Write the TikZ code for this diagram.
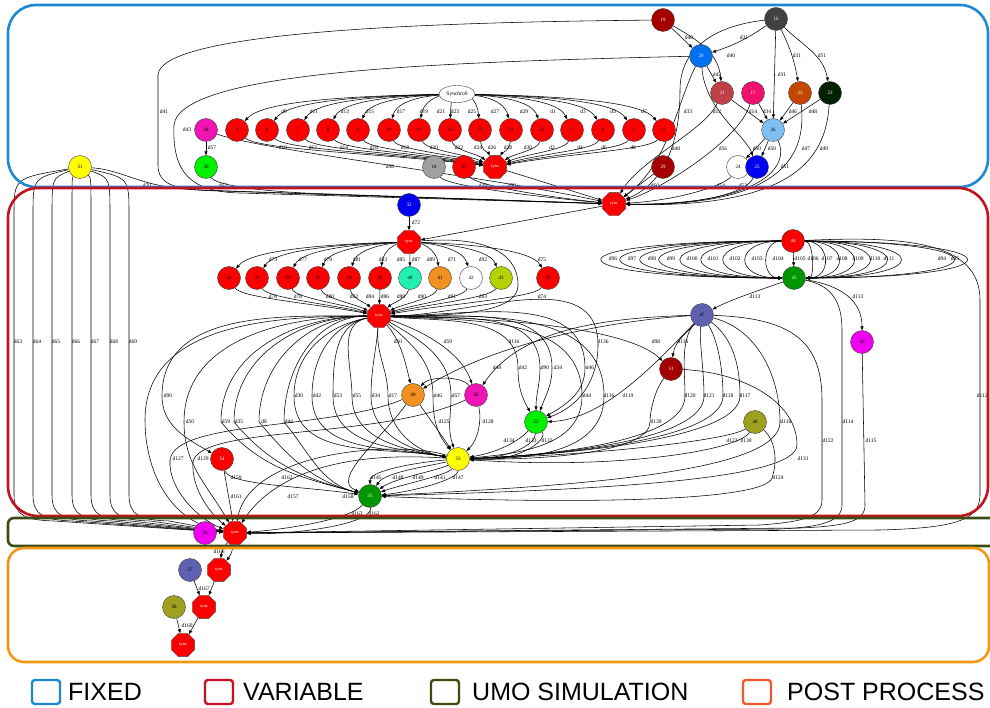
\documentclass[tikz,border=0pt]{standalone}
\usepackage{fontspec}
\setmainfont{Liberation Serif}
\newfontfamily\legendfont{Liberation Sans}
\usetikzlibrary{shapes.geometric,arrows.meta}

\definecolor{fixedblue}{RGB}{30,136,208}
\definecolor{varred}{RGB}{196,18,32}
\definecolor{umogreen}{RGB}{58,78,20}
\definecolor{postorange}{RGB}{244,150,20}
\definecolor{postlegend}{RGB}{240,90,40}
\definecolor{cdkred}{RGB}{165,0,0}
\definecolor{cgraphite}{RGB}{64,64,64}
\definecolor{cazure}{RGB}{0,112,240}
\definecolor{cbrick}{RGB}{192,64,72}
\definecolor{crose}{RGB}{240,16,110}
\definecolor{crust}{RGB}{196,70,0}
\definecolor{cforest}{RGB}{0,32,0}
\definecolor{csky}{RGB}{128,192,240}
\definecolor{cblue}{RGB}{0,0,240}
\definecolor{cmagenta}{RGB}{240,20,180}
\definecolor{clime}{RGB}{0,240,0}
\definecolor{cgrey}{RGB}{160,160,160}
\definecolor{cyel}{RGB}{255,255,0}
\definecolor{caqua}{RGB}{32,240,176}
\definecolor{corange}{RGB}{240,144,32}
\definecolor{cchart}{RGB}{180,210,0}
\definecolor{cgreen}{RGB}{0,150,0}
\definecolor{cslate}{RGB}{96,96,176}
\definecolor{cfuchsia}{RGB}{240,0,240}
\definecolor{colive}{RGB}{160,160,32}
\definecolor{cred}{RGB}{250,0,0}

\pgfdeclarelayer{wires}
\pgfsetlayers{wires,main}

\begin{document}
\begin{tikzpicture}[x=1pt,y=-1pt,
  gnode/.style={circle,draw=black!75,line width=0.4pt,minimum size=23pt,inner sep=0pt,font=\fontsize{5}{5}\selectfont},
  dark/.style={text=white},
  syncnode/.style={regular polygon,regular polygon sides=8,minimum size=25pt,inner sep=0pt,fill=cred,draw=black!70,line width=0.4pt,text=white,font=\fontsize{4.5}{5}\selectfont},
  e/.style={-{Triangle[length=4pt,width=3pt]},line width=0.55pt},
  lbl/.style={font=\fontsize{5.5}{6}\selectfont,inner sep=0pt},
  region/.style={line width=2.6pt,rounded corners=#1},
  legbox/.style={line width=2.4pt,rounded corners=3pt},
  legtext/.style={font=\legendfont\fontsize{25}{25}\selectfont,anchor=west,inner sep=0pt}
]
\useasboundingbox (0,0) rectangle (990,708);

% ---------- stage frames ----------
\draw[region=28pt,fixedblue] (8,5) rectangle (988,187);
\draw[region=30pt,varred] (8,188) rectangle (988,516);
\draw[region=6pt,umogreen] (8,518) rectangle (1000,546);
\draw[region=16pt,postorange] (8,548) rectangle (989,662);

% ---------- legend ----------
\draw[legbox,fixedblue] (32,680) rectangle (60,704);
\node[legtext] (lg1) at (68,692) {FIXED};
\draw[legbox,varred] (205,680) rectangle (233,704);
\node[legtext] (lg2) at (243,692) {VARIABLE};
\draw[legbox,umogreen] (431,680) rectangle (459,704);
\node[legtext] (lg3) at (472,692) {UMO SIMULATION};
\draw[legbox,postlegend] (743,680) rectangle (771,704);
\node[legtext] (lg4) at (787,692) {POST PROCESS};

% ---------- fixed stage ----------
\node[gnode,fill=cdkred,dark] (n19) at (663,20) {19};
\node[gnode,fill=cgraphite,dark] (n16) at (776,19) {16};
\node[gnode,fill=cazure,dark] (n20) at (701,56) {20};
\node[gnode,fill=cbrick,dark] (n21) at (722,93) {21};
\node[gnode,fill=crose,dark] (n17) at (753,93) {17};
\node[gnode,fill=crust,dark] (n22) at (800,93) {22};
\node[gnode,fill=cforest,dark] (n23) at (830,93) {23};
\node[gnode,fill=csky] (n26) at (773,130) {26};
\node[gnode,fill=white] (n24) at (738,167) {24};
\node[gnode,fill=cblue,dark] (n25) at (757,167) {25};
\node[gnode,fill=cdkred,dark] (n29) at (663,167) {29};
\node[ellipse,draw=black!75,line width=0.4pt,fill=white,minimum width=36pt,minimum height=17pt,inner sep=0pt,font=\fontsize{5.5}{6}\selectfont] (synchro) at (457,94) {Synchro0};
\node[gnode,fill=cmagenta] (n28) at (206,130) {28};
\foreach \lab/\x in {5/237,6/267,7/298,8/328,9/358,10/389,11/419,12/450,13/480,14/511,15/542,1/572,2/603,3/634,4/664}
  \node[gnode,fill=cred] (n\lab) at (\x,130) {\lab};
\node[gnode,fill=clime] (n30) at (206,167) {30};
\node[gnode,fill=cgrey] (n18) at (434,167) {18};
\node[gnode,fill=cred] (n27) at (464,167) {27};
\node[syncnode] (s1) at (495,167) {sync};
\node[syncnode] (s2) at (614,204) {sync};
\node[gnode,fill=cyel] (n31) at (80,167) {31};

% ---------- variable stage ----------
\node[gnode,fill=cblue,dark] (n32) at (409,205) {32};
\node[syncnode] (s3) at (409,242) {sync};
\foreach \lab/\x/\col in {34/229/cred,35/257/cred,36/288/cred,37/318/cred,38/349/cred,39/380/cred,40/410/caqua,41/440/corange,42/471/white,43/501/cchart,33/548/cred}
  \node[gnode,fill=\col] (n\lab) at (\x,278) {\lab};
\node[syncnode] (s4) at (379,316) {sync};
\node[gnode,fill=cred,dark] (n44) at (793,241) {44};
\node[gnode,fill=cgreen,dark] (n45) at (794,278) {45};
\node[gnode,fill=cslate] (n47) at (702,315) {47};
\node[gnode,fill=cfuchsia] (n46) at (862,342) {46};
\node[gnode,fill=cdkred,dark] (n51) at (671,369) {51};
\node[gnode,fill=colive] (n48) at (755,422) {48};
\node[gnode,fill=corange] (n49) at (413,395) {49};
\node[gnode,fill=cmagenta] (n50) at (476,395) {50};
\node[gnode,fill=clime] (n52) at (536,422) {52};
\node[gnode,fill=cyel] (n53) at (458,459) {53};
\node[gnode,fill=cgreen,dark] (n55) at (370,496) {55};
\node[gnode,fill=cred,dark] (n54) at (222,459) {54};

% ---------- simulation and post process ----------
\node[gnode,fill=cfuchsia] (n56) at (205,533) {56};
\node[syncnode] (s5) at (235,533) {sync};
\node[syncnode] (s6) at (219,570) {sync};
\node[gnode,fill=cslate] (n57) at (190,570) {57};
\node[syncnode] (s7) at (204,607) {sync};
\node[gnode,fill=colive] (n58) at (174,607) {58};
\node[syncnode] (s8) at (183,645) {sync};

\begin{pgfonlayer}{wires}
% Synchro0 fans out to the first row
\foreach \lab/\x/\dl/\lx in {5/237/d9/284,6/267/d11/314,7/298/d13/345,8/328/d15/370,9/358/d17/401,10/389/d19/424,11/419/d21/441,12/450/d23/455,13/480/d25/472,14/511/d27/495,15/542/d29/524,1/572/d1/553,2/603/d3/583,3/634/d5/613,4/664/d7/644}
  \draw[e] (synchro) .. controls ({\x+0.55*(457-\x)},96) and ({\x+0.12*(457-\x)},100) .. (n\lab) node[lbl,at={(\lx,112)}] {\dl};
% first row joins in s1
\foreach \lab/\x/\dl/\lx in {5/237/d10/283,6/267/d12/313,7/298/d14/344,8/328/d16/374,9/358/d18/405,10/389/d20/434,11/419/d22/459,12/450/d24/478,13/480/d26/492,14/511/d28/508,15/542/d30/528,1/572/d2/552,2/603/d4/580,3/634/d6/604,4/664/d8/633}
  \draw[e] (n\lab) .. controls ({\x+0.08*(495-\x)},150) and ({\x+0.6*(495-\x)},154) .. (s1) node[lbl,at={(\lx,148)}] {\dl};

% upper right cluster
\draw[e] (n19) -- (n20) node[lbl,at={(689,38)}] {d40};
\draw[e] (n16) to[bend left=8] (n20) node[lbl,at={(744,38)}] {d31};
\draw[e] (n19) to[out=-30,in=95] (n21) node[lbl,at={(731,56)}] {d40};
\draw[e] (n20) -- (n21) node[lbl,at={(717,75)}] {d42};
\draw[e] (n16) to[bend left=8] (n22) node[lbl,at={(797,56)}] {d31};
\draw[e] (n16) to[out=-45,in=100] (n23) node[lbl,at={(822,56)}] {d51};
\draw[e] (n16) -- (n26) node[lbl,at={(782,75)}] {d31};
\draw[e] (n21) -- (n26);
\draw[e] (n17) -- (n26) node[lbl,at={(767,112)}] {d34};
\draw[e] (n22) -- (n26) node[lbl,at={(793,112)}] {d46};
\draw[e] (n23) -- (n26) node[lbl,at={(813,112)}] {d48};
\draw[e] (n26) -- (n24) node[lbl,at={(757,149)}] {d50};
\draw[e] (n26) -- (n25) node[lbl,at={(772,149)}] {d50};
\draw[e] (n20) .. controls (705,110) and (745,135) .. (n25) node[lbl,at={(723,149)}] {d56};
\draw[e] (n26) .. controls (790,165) and (765,205) .. (s2) node[lbl,at={(785,167)}] {d51};
\draw[e] (n22) .. controls (806,150) and (790,207) .. (s2) node[lbl,at={(806,149)}] {d47};
\draw[e] (n23) .. controls (826,150) and (805,209) .. (s2) node[lbl,at={(824,149)}] {d49};
\draw[e] (n24) .. controls (725,185) and (680,200) .. (s2) node[lbl,at={(721,186)}] {d54};
\draw[e] (n25) .. controls (748,192) and (700,206) .. (s2) node[lbl,at={(743,186)}] {d52};
\draw[e] (n29) -- (s2) node[lbl,at={(655,186)}] {d60};
\draw[e] (n16) .. controls (720,25) and (680,45) .. (680,90) .. controls (680,150) and (660,185) .. (s2) node[lbl,at={(688,112)}] {d33};
\draw[e] (n20) .. controls (678,100) and (668,165) .. (s2) node[lbl,at={(676,149)}] {d48};
\draw[e] (n21) .. controls (705,130) and (640,160) .. (s2) node[lbl,at={(717,112)}] {d12};
\draw[e] (n17) .. controls (740,140) and (660,190) .. (s2) node[lbl,at={(753,112)}] {d14};

% long sweeps around the left side of the fixed stage
\draw[e] (n19) .. controls (450,22) and (160,30) .. (158,75) -- (158,165) .. controls (158,185) and (175,190) .. (220,191) -- (s2) node[lbl,at={(164,112)}] {d41};
\draw[e] (n20) .. controls (450,62) and (180,70) .. (174,125) .. controls (172,172) and (190,192) .. (240,193) -- (s2) node[lbl,at={(187,130)}] {d43};
\draw[e] (n28) -- (n30) node[lbl,at={(212,148)}] {d57};
\draw[e] (n28) .. controls (260,150) and (480,175) .. (s2) node[lbl,at={(390,167)}] {d58};
\draw[e] (n30) .. controls (215,185) and (260,192) .. (330,194) -- (s2) node[lbl,at={(223,186)}] {d67};
\draw[e] (n31) .. controls (125,170) and (140,188) .. (200,190) -- (s2) node[lbl,at={(147,186)}] {d70};
\draw[e] (n18) .. controls (445,185) and (520,195) .. (s2);
\draw[e] (n27) .. controls (475,185) and (540,196) .. (s2) node[lbl,at={(483,186)}] {d38};
\draw[e] (s1) -- (s2) node[lbl,at={(512,186)}] {d50};

% into the variable stage
\draw[e] (s2) -- (s3);
\draw[e] (n32) -- (s3) node[lbl,at={(416,223)}] {d72};
\foreach \lab/\x/\dl/\lx in {34/229/d73/273,35/257/d77/303,36/288/d79/328,37/318/d81/357,38/349/d83/383,39/380/d85/401,40/410/d87/416,41/440/d89/431,42/471/d71/452,43/501/d92/483,33/548/d75/542}
  \draw[e] (s3) .. controls ({\x+0.55*(409-\x)},244) and ({\x+0.12*(409-\x)},250) .. (n\lab) node[lbl,at={(\lx,260)}] {\dl};
\foreach \lab/\x/\dl/\lx in {34/229/d76/273,35/257/d78/298,36/288/d80/330,37/318/d82/354,38/349/d84/370,39/380/d86/385,40/410/d88/401,41/440/d90/422,42/471/d91/452,43/501/d93/483,33/548/d74/542}
  \draw[e] (n\lab) .. controls ({\x+0.08*(379-\x)},298) and ({\x+0.6*(379-\x)},304) .. (s4) node[lbl,at={(\lx,297)}] {\dl};
\draw[e] (s3) .. controls (480,236) and (518,250) .. (518,285) .. controls (518,310) and (470,316) .. (s4);

% bundle between 44 and 45
\draw[e] (n44) -- (n45);
\foreach \lx/\dl in {613/d96,632/d97,652/d98,671/d99,692/d100,713/d101,735/d102,757/d103,778/d104}
  \draw[e] (n44) .. controls ({793+(\lx-802)/0.75},241) and ({793+(\lx-802)/0.75},278) .. (n45) node[lbl,at={(\lx,259)}] {\dl};
\foreach \lx/\dl in {800/d105,813/d106,827/d107,842/d108,858/d109,875/d110,889/d111,942/d94,955/d95}
  \draw[e] (n44) .. controls ({793+(\lx-784)/0.75},241) and ({793+(\lx-784)/0.75},278) .. (n45) node[lbl,at={(\lx,259)}] {\dl};
\draw[e] (n44) .. controls (900,236) and (980,240) .. (980,300) -- (980,495) .. controls (980,522) and (950,528) .. (880,530) -- (s5) node[lbl,anchor=east,at={(988,396)}] {d112};

% from 45 and 46
\draw[e] (n45) .. controls (760,290) and (730,300) .. (n47) node[lbl,at={(755,297)}] {d113};
\draw[e] (n45) .. controls (840,285) and (862,300) .. (n46) node[lbl,at={(858,297)}] {d113};
\draw[e] (n45) .. controls (830,285) and (842,300) .. (842,330) -- (842,505) .. controls (842,522) and (820,527) .. (780,529) -- (s5) node[lbl,at={(848,422)}] {d114};
\draw[e] (n46) -- (865,505) .. controls (865,522) and (845,526) .. (800,528) -- (s5) node[lbl,at={(871,441)}] {d115};

% from 47
\draw[e] (n47) .. controls (690,330) and (675,340) .. (n51) node[lbl,at={(683,342)}] {d116};
\draw[e] (n47) .. controls (600,318) and (520,330) .. (n50) node[lbl,at={(514,342)}] {d116};
\draw[e] (n47) .. controls (620,320) and (500,340) .. (n49) node[lbl,at={(497,368)}] {d44};
\draw[e] (n47) .. controls (650,370) and (600,420) .. (n52) node[lbl,at={(628,396)}] {d119};
\foreach \wx/\dl in {685/d120,704/d121,723/d118,740/d117}
  \draw[e] (n47) .. controls ({\wx-5},340) and (\wx,370) .. (\wx,396) .. controls (\wx,440) and (560,455) .. (n53) node[lbl,at={({\wx+5},396)}] {\dl};
\draw[e] (n47) .. controls (760,330) and (780,380) .. (780,422) .. controls (780,470) and (600,485) .. (n55) node[lbl,at={(786,422)}] {d116};
\draw[e] (n47) .. controls (790,318) and (822,340) .. (822,400) -- (822,500) .. controls (822,518) and (800,522) .. (760,525) -- (s5) node[lbl,at={(828,441)}] {d122};

% from 51 and 48
\draw[e] (n51) .. controls (655,390) and (650,410) .. (650,422) .. controls (650,450) and (560,460) .. (n53) node[lbl,at={(656,422)}] {d130};
\draw[e] (n51) .. controls (740,372) and (797,400) .. (797,445) .. controls (797,480) and (600,490) .. (n55) node[lbl,at={(803,459)}] {d131};
\draw[e] (n48) .. controls (730,440) and (600,455) .. (n53) node[lbl,at={(732,441)}] {d123};
\draw[e] (n48) .. controls (740,450) and (620,470) .. (n53) node[lbl,at={(746,441)}] {d130};
\draw[e] (n48) .. controls (775,440) and (778,460) .. (772,478) .. controls (765,500) and (600,505) .. (n55) node[lbl,at={(778,478)}] {d124};

% fan leaving the second sync
\draw[e] (s4) to[out=180,in=90] (145,420) to[out=-90,in=170] (s5);
\draw[e] (s4) to[out=180,in=90] (162,396) to[out=-90,in=150] (n54) node[lbl,at={(168,396)}] {d90};
\draw[e] (s4) to[out=180,in=90] (184,422) to[out=-90,in=120] (s5) node[lbl,at={(190,422)}] {d50};
\foreach \wx/\dl in {221/d59,234/d35,259/d8,284/d44}
  \draw[e] (s4) to[out=180,in=90] (\wx,422) to[out=-50,in=165] (n55) node[lbl,at={({\wx+5},422)}] {\dl};
\foreach \wx/\dl in {294/d30,312/d42,333/d53,352/d55}
  \draw[e] (s4) to[out=190,in=90] (\wx,396) to[out=-90,in=170] (n53) node[lbl,at={({\wx+5},396)}] {\dl};
\foreach \wx/\dl in {371/d34,388/d17}
  \draw[e] (s4) to[out=-95,in=90] (\wx,396) to[out=-90,in=170] (n53) node[lbl,at={({\wx+5},396)}] {\dl};
\draw[e] (s4) .. controls (400,340) and (405,360) .. (n49) node[lbl,at={(398,342)}] {d50};
\draw[e] (s4) .. controls (420,330) and (460,350) .. (n50) node[lbl,at={(448,342)}] {d59};
\draw[e] (s4) to[out=-40,in=90] (433,396) to[out=-90,in=130] (n53) node[lbl,at={(438,396)}] {d46};
\draw[e] (s4) to[out=-30,in=90] (451,396) to[out=-90,in=110] (n53) node[lbl,at={(456,396)}] {d57};
\draw[e] (s4) to[out=-5,in=90] (518,368) to[out=-90,in=120] (n52) node[lbl,at={(523,368)}] {d42};
\draw[e] (s4) to[out=-3,in=90] (540,368) to[out=-90,in=90] (n52) node[lbl,at={(545,368)}] {d90};
\draw[e] (s4) to[out=-2,in=90] (552,368) to[out=-90,in=70] (n52) node[lbl,at={(558,368)}] {d34};
\draw[e] (s4) to[out=0,in=90] (585,368) to[out=-90,in=30] (n52) node[lbl,at={(590,368)}] {d46};
\draw[e] (s4) to[out=-3,in=90] (582,396) to[out=-90,in=5] (n53) node[lbl,at={(587,396)}] {d44};
\draw[e] (s4) to[out=0,in=90] (598,345) to[out=-90,in=20] (n52) node[lbl,at={(603,342)}] {d136};
\draw[e] (s4) to[out=0,in=90] (604,396) to[out=-90,in=0] (n53) node[lbl,at={(609,396)}] {d116};
\draw[e] (s4) .. controls (520,318) and (630,330) .. (n51) node[lbl,at={(656,342)}] {d98};

% lower variable stage
\draw[e] (n49) -- (n53) node[lbl,at={(444,422)}] {d125};
\draw[e] (n50) .. controls (482,420) and (478,440) .. (n53) node[lbl,at={(488,422)}] {d128};
\draw[e] (n50) .. controls (462,376) and (430,376) .. (n49);
\draw[e] (n52) .. controls (520,440) and (500,452) .. (n53) node[lbl,at={(509,441)}] {d134};
\draw[e] (n52) .. controls (535,445) and (510,458) .. (n53) node[lbl,at={(531,441)}] {d133};
\draw[e] (n52) .. controls (548,440) and (520,462) .. (n53) node[lbl,at={(547,441)}] {d132};
\draw[e] (n53) .. controls (420,462) and (370,470) .. (n55) node[lbl,at={(376,478)}] {d145};
\draw[e] (n53) .. controls (430,466) and (385,472) .. (n55) node[lbl,at={(398,478)}] {d148};
\draw[e] (n53) .. controls (440,470) and (395,478) .. (n55) node[lbl,at={(418,478)}] {d149};
\draw[e] (n53) .. controls (448,475) and (400,485) .. (n55) node[lbl,at={(440,478)}] {d141};
\draw[e] (n53) .. controls (458,480) and (410,492) .. (n55) node[lbl,at={(458,478)}] {d147};
\draw[e] (n49) .. controls (380,440) and (330,480) .. (n55) node[lbl,at={(348,497)}] {d158};
\draw[e] (n49) .. controls (330,430) and (175,420) .. (170,460) .. controls (168,490) and (200,520) .. (s5) node[lbl,at={(178,459)}] {d127};
\draw[e] (n50) .. controls (380,440) and (200,425) .. (193,462) .. controls (191,490) and (212,515) .. (s5) node[lbl,at={(203,459)}] {d129};
\draw[e] (n54) .. controls (228,485) and (300,486) .. (n55) node[lbl,at={(236,478)}] {d159};
\draw[e] (n54) -- (s5) node[lbl,at={(236,497)}] {d161};
\draw[e] (n53) .. controls (330,450) and (270,480) .. (s5) node[lbl,at={(293,497)}] {d157};
\draw[e] (n53) .. controls (400,440) and (250,450) .. (s5) node[lbl,at={(287,478)}] {d162};
\draw[e] (n55) .. controls (350,520) and (280,530) .. (s5) node[lbl,at={(357,514)}] {d163};
\draw[e] (n55) .. controls (372,525) and (290,535) .. (s5) node[lbl,at={(374,514)}] {d162};

% 31 feeds the simulation sync along the left edge
\foreach \vx/\dl in {14/d63,33/d64,52/d65,72/d66,91/d67,110/d68,129/d69}
  \draw[e] (n31) .. controls (\vx,178) .. (\vx,215) -- (\vx,495) .. controls (\vx,516) and ({\vx+12},520) .. ({\vx+40},521) -- (s5) node[lbl,at={({\vx+4},342)}] {\dl};

% simulation to post process chain
\draw[e] (s5) to[bend right=15] (s6) node[lbl,at={(219,552)}] {d166};
\draw[e] (s5) to[bend left=15] (s6);
\draw[e] (s6) -- (s7);
\draw[e] (n57) -- (s7) node[lbl,at={(204,589)}] {d167};
\draw[e] (s7) -- (s8);
\draw[e] (n58) -- (s8) node[lbl,at={(187,626)}] {d169};
\end{pgfonlayer}
\end{tikzpicture}
\end{document}
